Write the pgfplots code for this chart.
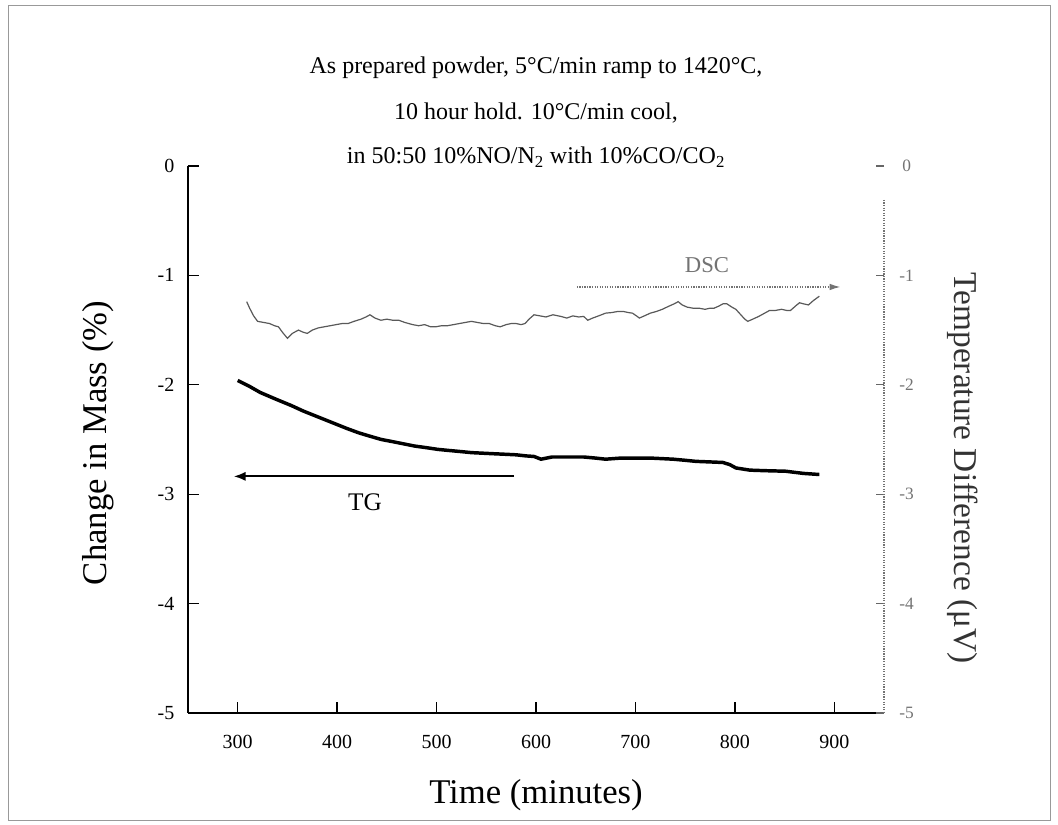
\documentclass[border=0pt]{standalone}
\usepackage{fontspec}
\setmainfont{Liberation Serif}
\usepackage{pgfplots}
\pgfplotsset{compat=1.18}
\usetikzlibrary{arrows.meta}

\begin{document}
\begin{tikzpicture}
\useasboundingbox (0,0) rectangle (793.5pt,618.75pt);
\draw[black!40, line width=0.6pt] (6pt,3.75pt) rectangle (787.5pt,615pt);

\begin{axis}[
  at={(141pt,84pt)}, anchor=south west,
  width=522pt, height=410.25pt, scale only axis,
  xmin=250, xmax=950, ymin=-5, ymax=0,
  axis x line*=bottom, axis y line*=left,
  x axis line style={-, line width=1.5pt},
  y axis line style={-, line width=1.9pt},
  xtick={300,400,...,900}, ytick={-5,-4,...,0},
  tick align=inside,
  major tick length=8pt,
  tick style={black, line width=1pt},
  /pgf/number format/assume math mode=true,
  xticklabel style={font=\fontsize{15}{18}\selectfont, anchor=center, yshift=-21.75pt},
  yticklabel style={font=\fontsize{15}{18}\selectfont, anchor=east, inner sep=0pt, xshift=-10pt},
  clip=false,
]
\addplot[black, line width=2.6pt, line join=round] coordinates {
(300,-1.96) (311,-2.01) (322.6,-2.07) (338,-2.13) (354,-2.19) (366,-2.24) (377,-2.28)
(388,-2.32) (399,-2.36) (410,-2.40) (422,-2.44) (433,-2.47) (444.5,-2.50) (456,-2.52)
(467,-2.54) (478,-2.56) (490,-2.575) (501,-2.59) (512,-2.60) (524,-2.61) (535,-2.62)
(546,-2.625) (557,-2.63) (569,-2.635) (580,-2.64) (590,-2.65) (598,-2.655) (605,-2.68)
(616,-2.66) (632,-2.66) (648,-2.66) (660,-2.67) (670,-2.68) (685,-2.67) (700,-2.67)
(715.5,-2.67) (727,-2.675) (738,-2.68) (750,-2.69) (761,-2.70) (775,-2.705) (788,-2.71)
(795,-2.73) (801,-2.76) (808,-2.77) (815,-2.78) (830,-2.785) (851,-2.79) (860,-2.80)
(869,-2.81) (877,-2.815) (885,-2.82)
};
\draw[black, line width=1.5pt, -{Latex[length=9pt,width=7pt]}] (axis cs:578,-2.837) -- (axis cs:296,-2.837);
\node[font=\fontsize{19}{22}\selectfont] at (axis cs:428,-3.07) {TG};
\end{axis}

\begin{axis}[
  at={(141pt,84pt)}, anchor=south west,
  width=522pt, height=410.25pt, scale only axis,
  xmin=250, xmax=950, ymin=-5, ymax=0,
  axis x line=none, axis y line*=right,
  y axis line style={draw=none},
  ytick={-5,-4,...,0},
  tick align=inside, major tick length=6pt,
  ytick style={black!60, line width=0.8pt},
  /pgf/number format/assume math mode=true,
  yticklabel style={font=\fontsize{13}{16}\selectfont, text=black!55, anchor=center, xshift=17pt},
  clip=false,
]
\draw[black!55, densely dotted, line width=0.9pt] (axis cs:950,-0.31) -- (axis cs:950,-5);
\addplot[black!65, line width=0.9pt] coordinates {
(309,-1.24) (312,-1.30) (316,-1.37) (320,-1.42) (326,-1.43) (332,-1.44) (337,-1.46)
(341,-1.47) (345,-1.52) (350,-1.575) (355,-1.53) (361,-1.50) (366,-1.52) (370,-1.53)
(375,-1.50) (381,-1.48) (387,-1.47) (393,-1.46) (399,-1.45) (405,-1.44) (411,-1.44)
(417,-1.42) (424,-1.40) (429,-1.38) (433,-1.36) (438,-1.39) (444,-1.41) (450,-1.40)
(456,-1.41) (462,-1.41) (468,-1.43) (476,-1.45) (482,-1.46) (488,-1.45) (494,-1.47)
(499,-1.47) (505,-1.46) (511,-1.46) (517,-1.45) (523,-1.44) (529,-1.43) (535,-1.42)
(541,-1.43) (547,-1.44) (553,-1.44) (559,-1.46) (564,-1.47) (570,-1.45) (575,-1.44)
(580,-1.44) (585,-1.45) (589,-1.44) (593,-1.40) (598,-1.36) (604,-1.37) (610,-1.38)
(617,-1.36) (625,-1.375) (631,-1.39) (637,-1.37) (643,-1.38) (648,-1.375) (652,-1.41)
(657,-1.39) (663,-1.37) (670,-1.345) (676,-1.34) (682,-1.33) (688,-1.33) (693,-1.34)
(697,-1.345) (701,-1.37) (704,-1.39) (709,-1.37) (715,-1.345) (721,-1.33) (727,-1.31)
(734,-1.28) (739,-1.26) (743,-1.24) (747,-1.27) (752,-1.29) (758,-1.30) (764,-1.30)
(770,-1.31) (775,-1.30) (779,-1.30) (784,-1.28) (788,-1.26) (792,-1.26) (797,-1.29)
(801,-1.31) (806,-1.36) (810,-1.40) (813,-1.42) (818,-1.40) (824,-1.375) (829,-1.35)
(835,-1.32) (841,-1.32) (847,-1.31) (852,-1.32) (856,-1.32) (861,-1.28) (865,-1.25)
(869,-1.26) (874,-1.27) (879,-1.23) (885,-1.19)
};
\draw[black!55, densely dotted, line width=0.9pt, -{Latex[length=8pt,width=5pt]}] (axis cs:641,-1.106) -- (axis cs:906,-1.106);
\node[font=\fontsize{17}{20}\selectfont, text=black!55] at (axis cs:772,-0.905) {DSC};
\end{axis}

\node[font=\fontsize{18}{22}\selectfont] at (402pt,567.75pt) {As prepared powder, 5°C/min ramp to 1420°C,};
\node[font=\fontsize{18}{22}\selectfont] at (402pt,534pt) {10 hour hold. 10°C/min cool,};
\node[font=\fontsize{18}{22}\selectfont] at (402pt,501pt) {in 50:50 10\%NO/N\textsubscript{2} with 10\%CO/CO\textsubscript{2}};
\node[font=\fontsize{26}{30}\selectfont, rotate=90] at (73.5pt,286.5pt) {Change in Mass (\%)};
\node[font=\fontsize{26}{30}\selectfont] at (402pt,22.5pt) {Time (minutes)};
\node[font=\fontsize{25}{30}\selectfont, rotate=-90, text=black!80] at (722.25pt,267.75pt) {Temperature Difference (μV)};
\end{tikzpicture}
\end{document}
